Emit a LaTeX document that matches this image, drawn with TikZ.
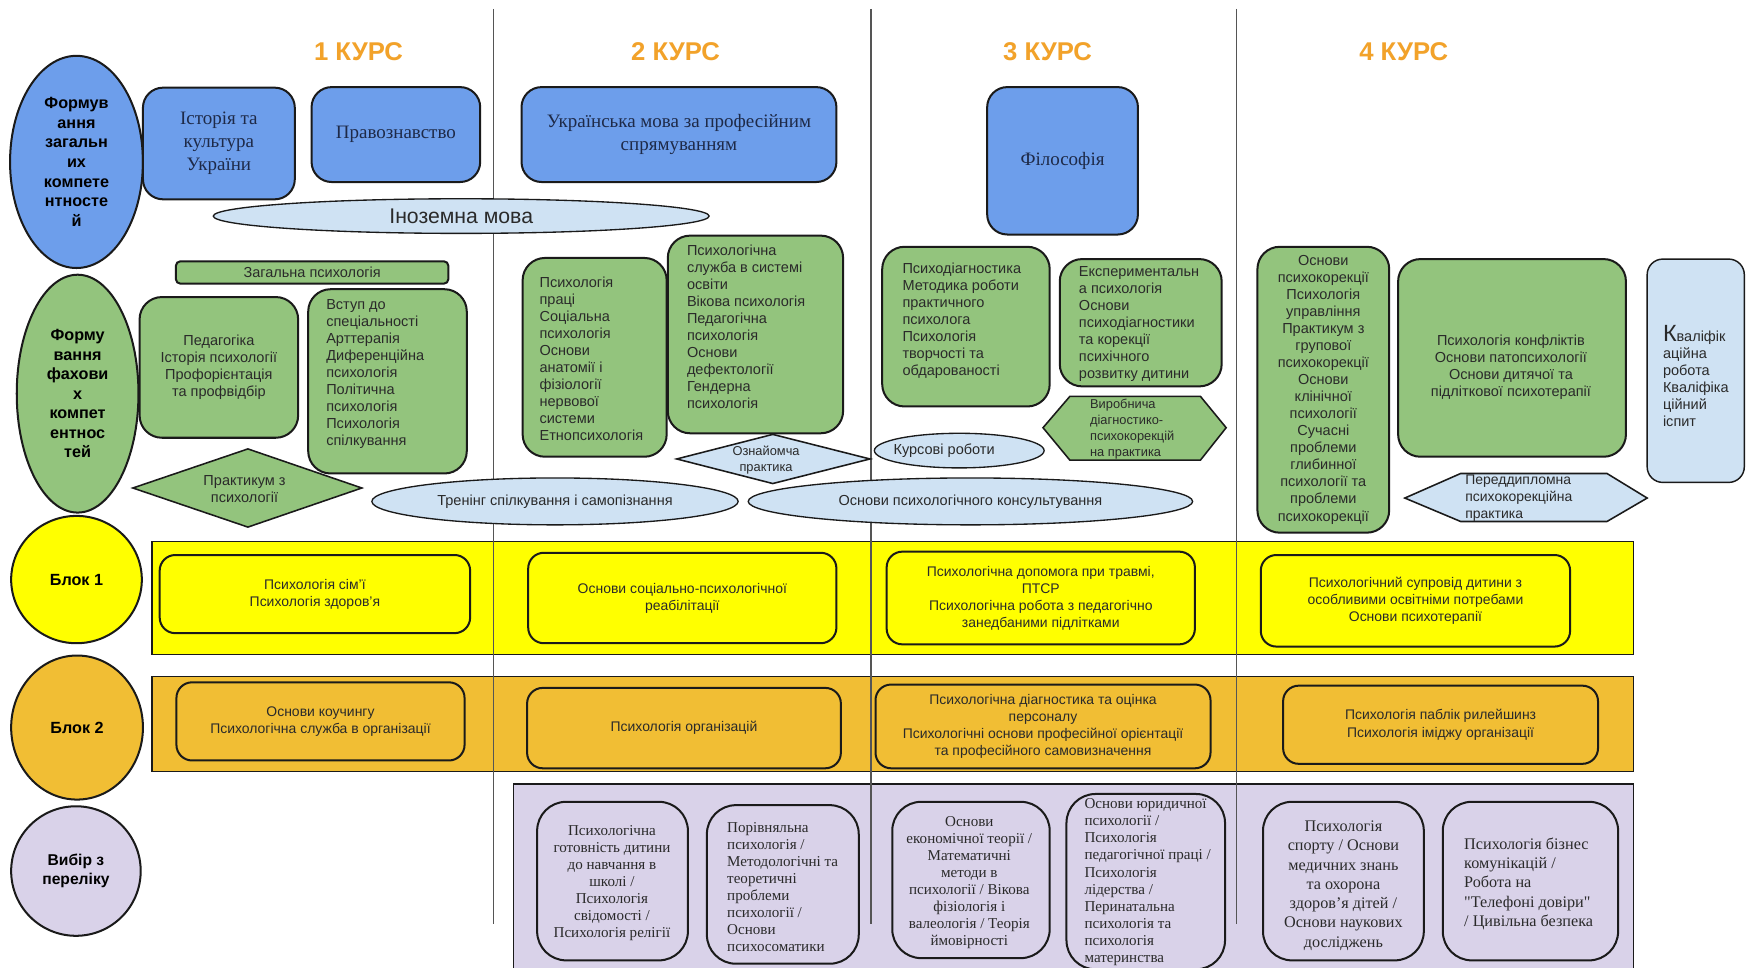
\documentclass[tikz,border=0pt]{standalone}
\usepackage{fontspec}
\setmainfont{Liberation Serif}
\setsansfont{Liberation Sans}
\newfontfamily\plainserif{Liberation Serif}[Ligatures=TeXOff]
\usetikzlibrary{shapes.geometric}
\definecolor{cblue}{HTML}{6D9EEB}
\definecolor{clblue}{HTML}{CFE2F3}
\definecolor{cgreen}{HTML}{93C47D}
\definecolor{cyel}{HTML}{FFFF00}
\definecolor{corange}{HTML}{F1BE34}
\definecolor{clav}{HTML}{D9D2E9}
\definecolor{ctitle}{HTML}{F2A22A}
\definecolor{cborder}{HTML}{1A1A1A}
\definecolor{cnavy}{HTML}{1E2A48}
\definecolor{ctext}{HTML}{2A2A2A}
\definecolor{cline}{HTML}{555555}
\newcommand{\fs}[2]{\fontsize{#1}{#2}\selectfont}
\begin{document}
\begin{tikzpicture}[x=1pt,y=-1pt,
  bx/.style={draw=cborder, line width=1.8pt, inner sep=0pt},
  blueb/.style={bx, fill=cblue, rounded corners=18pt, font=\rmfamily\fs{17}{20.5}, text=cnavy, align=center},
  greenb/.style={bx, fill=cgreen, rounded corners=20pt},
  gfont/.style={font=\sffamily\fs{13}{15.25}, text=ctext},
  gtxt/.style={gfont, inner sep=0pt},
  lbell/.style={ellipse, draw=cborder, line width=1.2pt, fill=clblue, inner sep=0pt, font=\sffamily\fs{13}{15}, text=ctext},
  yb/.style={bx, fill=cyel, rounded corners=14pt, font=\sffamily\fs{12.5}{15.3}, align=center, text=ctext},
  ob/.style={bx, fill=corange, rounded corners=14pt, font=\sffamily\fs{12.5}{15.3}, align=center, text=ctext},
  lavb/.style={bx, fill=clav, rounded corners=26pt},
  ltxt/.style={font=\rmfamily\fs{13.5}{15.3}, text=ctext, inner sep=0pt},
  ltxtb/.style={font=\rmfamily\fs{14.5}{17.3}, text=ctext, inner sep=0pt},
  band/.style={draw=cborder, line width=1.2pt, inner sep=0pt},
  leftell/.style={ellipse, draw=cborder, line width=1.8pt, inner sep=0pt, font=\sffamily\bfseries\fs{14.5}{17.5}, align=center, text=black},
  course/.style={font=\sffamily\bfseries\fs{23}{26}, text=ctitle},
  vline/.style={draw=cline, line width=1.1pt},
  shp/.style={draw=cborder, line width=1.4pt}]
\useasboundingbox (0,0) rectangle (1568,866);
\fill[white] (0,0) rectangle (1568,866);

% bands
\node[band, fill=cyel, minimum width=1327pt, minimum height=101pt] (band1) at (799.5,535.5) {};
\node[band, fill=corange, minimum width=1327pt, minimum height=85pt] (band2) at (799.5,648.5) {};
\node[band, fill=clav, minimum width=1003pt, minimum height=173pt] (band3) at (961.5,788.5) {};

% vertical separators
\coordinate (v1t) at (442,8); \coordinate (v1b) at (442,827);
\coordinate (v2t) at (780,8); \coordinate (v2b) at (780,827);
\coordinate (v3t) at (1107,8); \coordinate (v3b) at (1107,827);
\draw[vline] (v1t) -- (v1b);
\draw[vline] (v2t) -- (v2b);
\draw[vline] (v3t) -- (v3b);

% course titles
\node[course] (k1) at (321,46) {1 КУРС};
\node[course] (k2) at (605,46) {2 КУРС};
\node[course] (k3) at (938,46) {3 КУРС};
\node[course] (k4) at (1257,46) {4 КУРС};

% left ellipses
\node[leftell, fill=cblue, minimum width=119pt, minimum height=190pt] (e1) at (68.5,145) {Формув\\ання\\загальн\\их\\компете\\нтносте\\й};
\node[leftell, fill=cgreen, minimum width=109pt, minimum height=213pt] (e2) at (69.5,352.5) {Форму\\вання\\фахови\\х\\компет\\ентнос\\тей};
\node[leftell, fill=cyel, minimum width=117pt, minimum height=114pt] (e3) at (68.5,519) {Блок 1};
\node[leftell, fill=corange, minimum width=118pt, minimum height=129pt] (e4) at (69,651.5) {Блок 2};
\node[leftell, fill=clav, minimum width=116pt, minimum height=116pt, font=\sffamily\bfseries\fs{14}{16.5}] (e5) at (68,780) {Вибір з\\переліку};

% general competences
\node[blueb, minimum width=136pt, minimum height=100pt] (ist) at (196,128.5) {Історія та\\культура\\України};
\node[blueb, minimum width=151pt, minimum height=85pt] (prav) at (354.5,120.5) {Правознавство};
\node[blueb, minimum width=282pt, minimum height=85pt] (ukr) at (608,120.5) {Українська мова за професійним\\спрямуванням};
\node[blueb, minimum width=135pt, minimum height=132pt] (fil) at (951.5,144) {Філософія};
\node[lbell, minimum width=444pt, minimum height=31pt, font=\sffamily\fs{19}{22}] (inoz) at (413,193.5) {Іноземна мова};

% professional competences
\node[greenb, rounded corners=4pt, minimum width=244pt, minimum height=20pt, gfont, align=center] (zag) at (279.5,244) {Загальна психологія};
\node[greenb, minimum width=142pt, minimum height=126pt, gfont, align=center] (ped) at (196,329) {Педагогіка\\Історія психології\\Профорієнтація\\та профвідбір};
\node[greenb, minimum width=142pt, minimum height=165pt] (vst) at (347,341.5) {};
\node[gtxt, anchor=west, align=left] (vstt) at (292,335) {Вступ до\\спеціальності\\Арттерапія\\Диференційна\\психологія\\Політична\\психологія\\Психологія\\спілкування};

\node[greenb, minimum width=129pt, minimum height=178pt] (prac) at (532.5,320) {};
\node[gtxt, anchor=west, align=left] (pract) at (483,321) {Психологія\\праці\\Соціальна\\психологія\\Основи\\анатомії і\\фізіології\\нервової\\системи\\Етнопсихологія};
\node[greenb, minimum width=157pt, minimum height=177pt] (sluz) at (676.5,299.5) {};
\node[gtxt, anchor=west, align=left] (sluzt) at (615,292.5) {Психологічна\\служба в системі\\освіти\\Вікова психологія\\Педагогічна\\психологія\\Основи\\дефектології\\Гендерна\\психологія};

\node[greenb, minimum width=150pt, minimum height=143pt] (pdiag) at (865,292.5) {};
\node[gtxt, anchor=west, align=left] (pdiagt) at (808,287) {Психодіагностика\\Методика роботи\\практичного\\психолога\\Психологія\\творчості та\\обдарованості};
\node[greenb, minimum width=145pt, minimum height=114pt] (exper) at (1021.5,289) {};
\node[gtxt, anchor=west, align=left] (expert) at (966,290.5) {Експериментальн\\а психологія\\Основи\\психодіагностики\\та корекції\\психічного\\розвитку дитини};

\node[greenb, minimum width=118pt, minimum height=256pt, gfont, align=center] (okor) at (1185,349) {Основи\\психокорекції\\Психологія\\управління\\Практикум з\\групової\\психокорекції\\Основи\\клінічної\\психології\\Сучасні\\проблеми\\глибинної\\психології та\\проблеми\\психокорекції};
\node[greenb, minimum width=204pt, minimum height=177pt] (konf) at (1354,320.5) {};
\node[gtxt, align=center] (konft) at (1353,329) {Психологія конфліктів\\Основи патопсихології\\Основи дитячої та\\підліткової психотерапії};

\node[bx, fill=clblue, rounded corners=14pt, line width=1.3pt, minimum width=87pt, minimum height=200pt] (kval) at (1518.5,332) {};
\node[gtxt, anchor=west, align=left] (kvalt) at (1489,337) {{\fs{21}{15.5}К}валіфік\\аційна\\робота\\Кваліфіка\\ційний\\іспит};

% practice shapes
\filldraw[shp, fill=cgreen] (119,437) -- (222,402) -- (324,437) -- (222,472) -- cycle;
\node[gtxt, align=center] (prakt) at (219,438) {Практикум з\\психології};
\filldraw[shp, fill=clblue] (606,411) -- (692,389) -- (779,411) -- (692,433) -- cycle;
\node[gtxt, align=center, font=\sffamily\fs{11.5}{14}] (ozn) at (686,412) {Ознайомча\\практика};
\filldraw[shp, fill=cgreen] (934,383) -- (958,355) -- (1075,355) -- (1098,383) -- (1075,412) -- (958,412) -- cycle;
\node[gtxt, anchor=west, align=left, font=\sffamily\fs{11.5}{14.3}] (vyr) at (976,384) {Виробнича\\діагностико-\\психокорекцій\\на практика};
\filldraw[shp, fill=clblue] (1258,446) -- (1308,424) -- (1439,424) -- (1475,446) -- (1439,467) -- (1308,467) -- cycle;
\node[gtxt, anchor=west, align=left, font=\sffamily\fs{12.5}{15}] (pered) at (1312,446) {Переддипломна\\психокорекційна\\практика};

% light blue ellipses
\node[lbell, minimum width=328pt, minimum height=42pt] (tren) at (497,449) {Тренінг спілкування і самопізнання};
\node[lbell, minimum width=398pt, minimum height=42pt] (kons) at (869,449) {Основи психологічного консультування};
\node[lbell, minimum width=152pt, minimum height=31pt] (kurs) at (859,403.5) {};
\node[gtxt, anchor=west] (kurst) at (800,404) {Курсові роботи};

% Block 1
\node[yb, minimum width=278pt, minimum height=70pt] (y1) at (282,532) {Психологія сім’ї\\Психологія здоров’я};
\node[yb, minimum width=276pt, minimum height=81pt] (y2) at (611,535.5) {Основи соціально-психологічної\\реабілітації};
\node[yb, minimum width=276pt, minimum height=83pt] (y3) at (932,535.5) {Психологічна допомога при травмі,\\ПТСР\\Психологічна робота з педагогічно\\занедбаними підлітками};
\node[yb, minimum width=277pt, minimum height=82pt] (y4) at (1267.5,538) {Психологічний супровід дитини з\\особливими освітніми потребами\\Основи психотерапії};

% Block 2
\node[ob, minimum width=258pt, minimum height=70pt] (o1) at (287,646) {Основи коучингу\\Психологічна служба в організації};
\node[ob, minimum width=281pt, minimum height=72pt] (o2) at (612.5,652) {Психологія організацій};
\node[ob, minimum width=300pt, minimum height=75pt] (o3) at (934,650.5) {Психологічна діагностика та оцінка\\персоналу\\Психологічні основи професійної орієнтації\\та професійного самовизначення};
\node[ob, minimum width=282pt, minimum height=70pt] (o4) at (1290,649) {Психологія паблік рилейшинз\\Психологія іміджу організації};

% electives
\node[lavb, minimum width=135pt, minimum height=142pt] (l1) at (548.5,789) {};
\node[ltxt, align=center] (l1t) at (548,791) {Психологічна\\готовність дитини\\до навчання в\\школі /\\Психологія\\свідомості /\\Психологія релігії};
\node[lavb, minimum width=136pt, minimum height=142pt] (l2) at (701,792) {};
\node[ltxt, anchor=west, align=left] (l2t) at (651,794.5) {Порівняльна\\психологія /\\Методологічні та\\теоретичні\\проблеми\\психології /\\Основи\\психосоматики};
\node[lavb, minimum width=141pt, minimum height=140pt] (l3) at (869.5,788) {};
\node[ltxt, align=center] (l3t) at (868,790.5) {Основи\\економічної теорії /\\Математичні\\методи в\\психології / Вікова\\фізіологія і\\валеологія / Теорія\\ймовірності};
\node[lavb, minimum width=142pt, minimum height=157pt] (l4) at (1026,789.5) {};
\node[ltxt, anchor=west, align=left] (l4t) at (971,790) {Основи юридичної\\психології /\\Психологія\\педагогічної праці /\\Психологія\\лідерства /\\Перинатальна\\психологія та\\психологія\\материнства};
\node[lavb, minimum width=144pt, minimum height=142pt] (l5) at (1203,789) {};
\node[ltxtb, align=center] (l5t) at (1203,793) {Психологія\\спорту / Основи\\медичних знань\\та охорона\\здоров’я дітей /\\Основи наукових\\досліджень};
\node[lavb, minimum width=157pt, minimum height=142pt] (l6) at (1370.5,789) {};
\node[ltxtb, anchor=west, align=left, font=\plainserif\fs{14.5}{17.3}] (l6t) at (1311,791.5) {Психологія бізнес\\комунікацій /\\Робота на\\"Телефоні довіри"\\/ Цивільна безпека};
\end{tikzpicture}
\end{document}
